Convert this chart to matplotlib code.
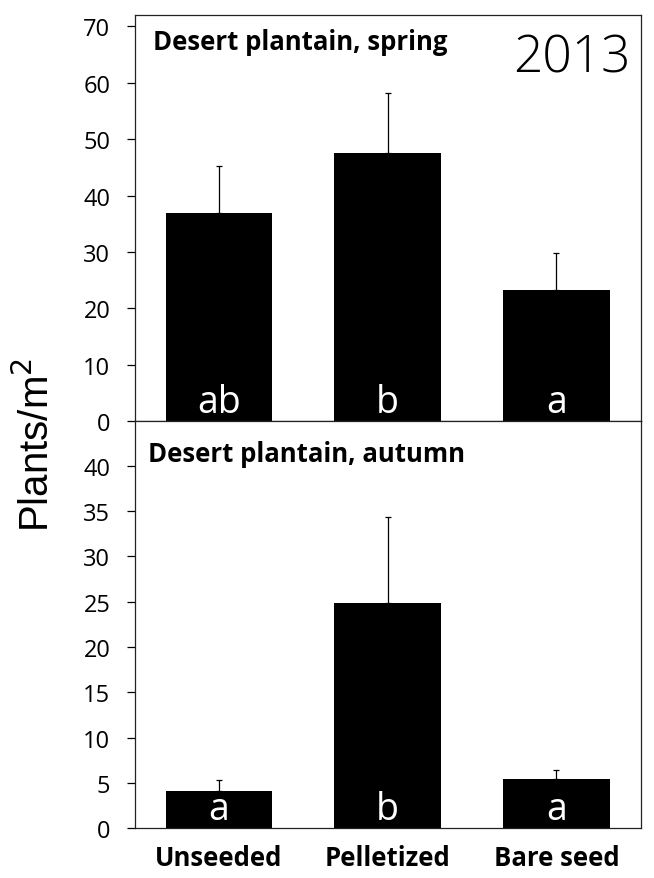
import numpy as np
import matplotlib.pyplot as plt

# data
categories = ['Unseeded', 'Pelletized', 'Bare seed']
spring_mean = [36.9, 47.5, 23.2]
spring_err = [8.3, 10.7, 6.7]
spring_letters = ['ab', 'b', 'a']
autumn_mean = [4.15, 24.9, 5.44]
autumn_err = [1.2, 9.4, 1.0]
autumn_letters = ['a', 'b', 'a']

plt.rcParams['font.family'] = ['Open Sans', 'DejaVu Sans']

fig = plt.figure(figsize=(6.54, 8.79), dpi=100)
ax1 = fig.add_axes([0.206, 0.5196, 0.7737, 0.4622])
ax2 = fig.add_axes([0.206, 0.0565, 0.7737, 0.4631])

x = np.arange(len(categories))


def panel(ax, means, errs, letters, ymax, ticks, title, title_dx, title_dy):
    ax.bar(x, means, width=0.633, color='black', zorder=2)
    ax.errorbar(x, means, yerr=[np.zeros(len(errs)), errs], fmt='none',
                ecolor='black', elinewidth=0.9, capsize=2.2, capthick=0.9, zorder=1)
    for xi, lab in zip(x, letters):
        ax.annotate(lab, xy=(xi, 0), xytext=(0, 6.7), textcoords='offset points',
                    color='white', ha='center', va='baseline', fontsize=27, zorder=3)
    ax.set_xlim(-0.5, 2.5)
    ax.set_ylim(0, ymax)
    ax.set_yticks(ticks)
    ax.tick_params(axis='y', direction='out', length=5.5, width=0.9, labelsize=17,
                   pad=12)
    ax.tick_params(axis='x', length=0)
    for s in ax.spines.values():
        s.set_linewidth(0.9)
        s.set_color('#222222')
    ax.annotate(title, xy=(0, 1), xycoords='axes fraction',
                xytext=(title_dx, -title_dy), textcoords='offset points',
                ha='left', va='baseline', fontsize=18.5, fontweight='bold')


panel(ax1, spring_mean, spring_err, spring_letters, 72, range(0, 71, 10),
      'Desert plantain, spring', 13.4, 24.5)
ax1.set_xticks([])
ax1.annotate('2013', xy=(1, 1), xycoords='axes fraction', xytext=(-7.5, -40.5),
             textcoords='offset points', ha='right', va='baseline',
             fontsize=37, fontweight='light')

panel(ax2, autumn_mean, autumn_err, autumn_letters, 44.9, range(0, 41, 5),
      'Desert plantain, autumn', 9.8, 28.4)
ax2.set_xticks(x)
ax2.set_xticklabels(categories, fontsize=18.5, fontweight='bold')
ax2.tick_params(axis='x', pad=11)

fig.text(0.055, 0.494, 'Plants/m$^2$', rotation=90, ha='center', va='center',
         fontsize=29, family='Liberation Sans')

fig.savefig('out.png', dpi=100)
